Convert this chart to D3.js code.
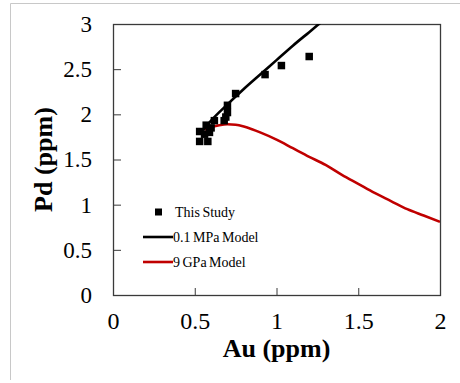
<!DOCTYPE html>
<html>
<head>
<meta charset="utf-8">
<script src="https://cdn.jsdelivr.net/npm/d3@7"></script>
<style>
  body { margin: 0; background: #fff; }
  svg { display: block; }
  svg text { font-family: "Liberation Serif", "Times New Roman", Times, "DejaVu Serif", serif; }
</style>
</head>
<body>
<svg id="chart" width="460" height="383"></svg>
<script>
// measured samples (Au vs Pd, ppm)
const studyAu = [0.53, 0.58, 0.53, 0.56, 0.57, 0.59, 0.60, 0.62, 0.68, 0.69, 0.70, 0.70, 0.75, 0.93, 1.03, 1.20];
const studyPd = [1.70, 1.70, 1.81, 1.78, 1.88, 1.80, 1.85, 1.93, 1.93, 1.97, 2.02, 2.10, 2.23, 2.44, 2.54, 2.64];

// 0.1 MPa model curve
const lowAu = [0.55, 0.6, 0.7, 0.8, 0.9, 1.0, 1.1, 1.2, 1.3];
const lowPd = [1.82, 1.93, 2.11, 2.28, 2.44, 2.60, 2.76, 2.91, 3.06];

// 9 GPa model curve
const highAu = [0.56, 0.6, 0.65, 0.7, 0.75, 0.8, 0.85, 0.9, 1.0, 1.1, 1.2, 1.3, 1.4, 1.5, 1.6, 1.7, 1.8, 1.9, 2.0];
const highPd = [1.83, 1.86, 1.88, 1.89, 1.885, 1.865, 1.835, 1.80, 1.72, 1.625, 1.53, 1.44, 1.33, 1.23, 1.13, 1.04, 0.95, 0.88, 0.81];

const xTicks = [0, 0.5, 1, 1.5, 2];
const yTicks = [0, 0.5, 1, 1.5, 2, 2.5, 3];

const legendItems = [
  { label: "This Study", kind: "marker", color: "#000" },
  { label: "0.1 MPa Model", kind: "line", color: "#000" },
  { label: "9 GPa Model", kind: "line", color: "#C00000" },
];

const margin = { left: 113, right: 20, top: 24, bottom: 88 };
const width = 460;
const height = 383;
const serif = '"Liberation Serif", "Times New Roman", Times, serif';

const svg = d3.select("#chart");

// page frame left over from the source document
svg.append("line").attr("x1", 10.5).attr("x2", 460).attr("y1", 3.5).attr("y2", 3.5).attr("stroke", "#c8c8c8");
svg.append("line").attr("x1", 10.5).attr("x2", 10.5).attr("y1", 3.5).attr("y2", 380).attr("stroke", "#c8c8c8");

const x = d3.scaleLinear().domain([0, 2]).range([margin.left, width - margin.right]);
const y = d3.scaleLinear().domain([0, 3]).range([height - margin.bottom, margin.top]);

svg.append("defs").append("clipPath").attr("id", "plot-clip")
  .append("rect")
  .attr("x", x(0)).attr("y", y(3))
  .attr("width", x(2) - x(0)).attr("height", y(0) - y(3));

const axisColor = "#3a3a3a";

// x axis, ticks inward
const xAxis = svg.append("g")
  .attr("transform", `translate(0,${y(0)})`)
  .call(d3.axisBottom(x).tickValues(xTicks).tickSize(-7).tickPadding(17).tickFormat(d3.format("")));
xAxis.attr("font-family", serif);
xAxis.select(".domain").remove();
xAxis.selectAll("line").attr("stroke", axisColor);
xAxis.selectAll("text").attr("font-size", 24).attr("fill", "#000");

const yAxis = svg.append("g")
  .attr("transform", `translate(${x(0)},0)`)
  .call(d3.axisLeft(y).tickValues(yTicks).tickSize(-8).tickPadding(21).tickFormat(d3.format("")));
yAxis.attr("font-family", serif);
yAxis.select(".domain").remove();
yAxis.selectAll("line").attr("stroke", axisColor);
yAxis.selectAll("text").attr("font-size", 23).attr("fill", "#000");

svg.append("rect")
  .attr("x", x(0) + 0.5).attr("y", y(3) + 0.5)
  .attr("width", x(2) - x(0)).attr("height", y(0) - y(3))
  .attr("fill", "none").attr("stroke", axisColor).attr("stroke-width", 1.3);

const plot = svg.append("g").attr("clip-path", "url(#plot-clip)");
const line = d3.line().x((d) => x(d[0])).y((d) => y(d[1])).curve(d3.curveMonotoneX);

plot.append("path")
  .datum(highAu.map((a, i) => [a, highPd[i]]))
  .attr("d", line).attr("fill", "none").attr("stroke", "#C00000").attr("stroke-width", 2.6);

plot.append("path")
  .datum(lowAu.map((a, i) => [a, lowPd[i]]))
  .attr("d", line).attr("fill", "none").attr("stroke", "#000").attr("stroke-width", 2.6);

const markerSize = 7.5;
plot.selectAll("rect.pt")
  .data(studyAu.map((a, i) => [a, studyPd[i]]))
  .join("rect")
  .attr("class", "pt")
  .attr("x", (d) => x(d[0]) - markerSize / 2)
  .attr("y", (d) => y(d[1]) - markerSize / 2)
  .attr("width", markerSize).attr("height", markerSize)
  .attr("fill", "#000");

// legend
const legend = svg.append("g").attr("transform", "translate(143, 212)");
legendItems.forEach((item, index) => {
  const row = legend.append("g").attr("transform", `translate(0, ${index * 25})`);
  if (item.kind === "marker") {
    row.append("rect").attr("x", 12).attr("y", -3.5).attr("width", 7).attr("height", 7).attr("fill", item.color);
  } else {
    row.append("line").attr("x1", 0).attr("x2", 30).attr("y1", 0).attr("y2", 0)
      .attr("stroke", item.color).attr("stroke-width", 2.6);
  }
  row.append("text")
    .attr("x", item.kind === "marker" ? 32 : 30)
    .attr("y", 5)
    .attr("font-size", 14)
    .attr("word-spacing", -1)
    .attr("fill", "#000")
    .text(item.label);
});

svg.append("text")
  .attr("x", (x(0) + x(2)) / 2)
  .attr("y", 357)
  .attr("text-anchor", "middle")
  .attr("font-size", 26)
  .attr("font-weight", "bold")
  .text("Au (ppm)");

svg.append("text")
  .attr("transform", `translate(52, ${(y(0) + y(3)) / 2}) rotate(-90)`)
  .attr("text-anchor", "middle")
  .attr("font-size", 26)
  .attr("font-weight", "bold")
  .text("Pd (ppm)");
</script>
</body>
</html>
